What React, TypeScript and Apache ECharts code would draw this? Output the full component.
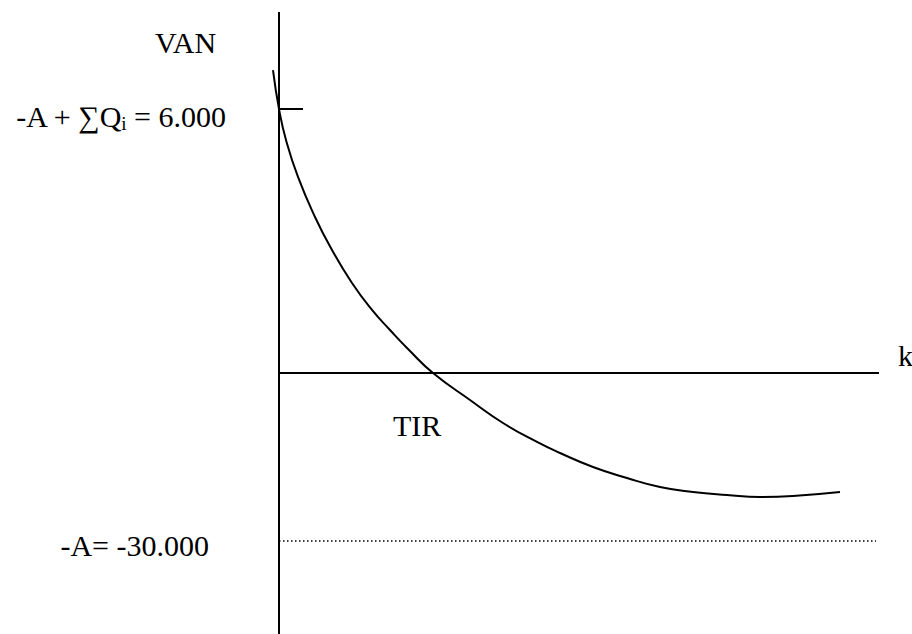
import React, { useEffect, useRef } from "react";
import * as echarts from "echarts";

const kValues = [-0.6, 0, 0.7, 1.9, 3.6, 5.3, 7.3, 9.3, 11.1, 13.1, 15.4, 19.1, 22.4, 25.8, 28.1, 31.4, 34.8, 38.1, 41.4, 44.8, 48.1, 51.4, 56.1];
const vanValues = [6886, 6000, 5295, 4455, 3545, 2795, 2045, 1432, 977, 500, 0, -614, -1136, -1568, -1818, -2136, -2386, -2591, -2705, -2773, -2818, -2795, -2705];

// Reference levels (schematic positions)
const vanAtZero = 6000; // -A + ΣQi
const floorLevel = -3820; // -A
const kAxisEnd = 60;
const vanAxisTop = 8205;
const tickLength = 2.4;
const floorEnd = 59.7;

// Axis window
const xRange = [-27.9, 63.3];
const yRange = [-5932, 8477];

// Texts
const labelVAN = "VAN";
const labelK = "k";
const labelTIR = "TIR";
const labelTop = "{m|-A + ∑Q}{s|i}{m| = 6.000}";
const labelFloor = "-A= -30.000";

const FONT = "Liberation Serif";
const FS = 30;

export default function App() {
  const ref = useRef<HTMLDivElement>(null);
  useEffect(() => {
    if (!ref.current) return;
    const chart = echarts.init(ref.current, null, { renderer: "svg" });
    const solid = { color: "#000", width: 2 };
    const seg = (data: number[][], lineStyle: any) => ({
      type: "line",
      data,
      symbol: "none",
      silent: true,
      lineStyle,
    });
    const txt = (x: number, y: number, text: string, align: string) => ({
      type: "text",
      x,
      y,
      style: {
        text,
        fontFamily: FONT,
        fontSize: FS,
        fill: "#000",
        textAlign: align,
        textVerticalAlign: "middle",
      },
    });
    chart.setOption({
      animation: false,
      backgroundColor: "#fff",
      grid: { left: 0, right: 0, top: 0, bottom: 0 },
      xAxis: { type: "value", min: xRange[0], max: xRange[1], show: false },
      yAxis: { type: "value", min: yRange[0], max: yRange[1], show: false },
      series: [
        seg([[0, yRange[0]], [0, vanAxisTop]], solid),
        seg([[0, 0], [kAxisEnd, 0]], solid),
        seg([[0, vanAtZero], [tickLength, vanAtZero]], solid),
        seg([[0, floorLevel], [floorEnd, floorLevel]], { color: "#000", width: 1.5, type: [1.5, 2.5] }),
        {
          type: "line",
          data: kValues.map((k, i) => [k, vanValues[i]]),
          symbol: "none",
          silent: true,
          smooth: 0.5,
          lineStyle: { color: "#000", width: 2 },
        },
      ],
      graphic: [
        txt(155, 42, labelVAN, "left"),
        {
          type: "text",
          x: 226,
          y: 116,
          style: {
            text: labelTop,
            fill: "#000",
            textAlign: "right",
            textVerticalAlign: "middle",
            rich: {
              m: { fontSize: FS, fontFamily: FONT, lineHeight: 34, fill: "#000" },
              s: { fontSize: 19, fontFamily: FONT, lineHeight: 19, verticalAlign: "bottom", fill: "#000" },
            },
          },
        },
        txt(898, 355, labelK, "left"),
        txt(393, 425, labelTIR, "left"),
        txt(209, 545, labelFloor, "right"),
      ],
    });
    return () => chart.dispose();
  }, []);
  return <div ref={ref} style={{ position: "absolute", left: 0, top: 0, width: 912, height: 634 }} />;
}
